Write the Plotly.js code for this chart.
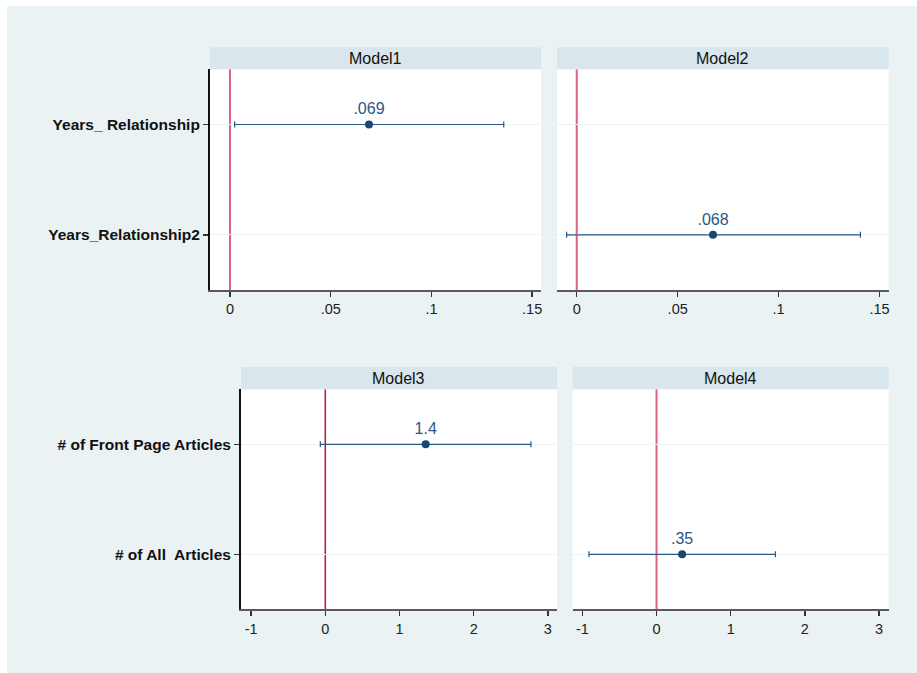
<!DOCTYPE html>
<html>
<head>
<meta charset="utf-8">
<script src="https://cdn.plot.ly/plotly-3.0.1.min.js"></script>
<style>html,body{margin:0;padding:0;background:#eaf2f3;overflow:hidden;}#chart{width:917px;height:673px;}</style>
</head>
<body>
<div id="chart"></div>
<script>
// ---- Data ----
const topLabels = ["Years_ Relationship", "Years_Relationship2"];
const bottomLabels = ["# of Front Page Articles", "# of All\u00a0 Articles"];
const modelNames = ["Model1", "Model2", "Model3", "Model4"];

// row index (1 = first label, 2 = second label) for each model's coefficient
const modelRow = [1, 2, 1, 2];
const coef   = [0.069, 0.0675, 1.353, 0.345];
const ciLow  = [0.0023, -0.005, -0.067, -0.911];
const ciHigh = [0.1359, 0.1405, 2.772, 1.603];
const coefLabels = [".069", ".068", "1.4", ".35"];
const refValue = 0;

const topTickVals = [0, 0.05, 0.1, 0.15];
const topTickText = ["0", ".05", ".1", ".15"];
const botTickVals = [-1, 0, 1, 2, 3];
const botTickText = ["-1", "0", "1", "2", "3"];

// ---- Layout helpers ----
const W = 917, H = 673;
const FONT = "Liberation Sans, Arial, sans-serif";
const navy = "#1a476f";
const px = v => v / W;
const py = v => 1 - v / H;

const panels = [
  {x0: 210, x1: 541, y0: 69.3, y1: 290, hy0: 47.3, range: [-0.00993, 0.1544], tv: topTickVals, tt: topTickText, left: true, labels: topLabels, zc: "#d9637c", zw: 2},
  {x0: 557, x1: 888.7, y0: 69.3, y1: 290, hy0: 47.3, range: [-0.00976, 0.1545], tv: topTickVals, tt: topTickText, left: false, labels: topLabels, zc: "#d9637c", zw: 2},
  {x0: 241, x1: 557, y0: 389.3, y1: 609.3, hy0: 367, range: [-1.136, 3.123], tv: botTickVals, tt: botTickText, left: true, labels: bottomLabels, zc: "#c8102e", zw: 1.5},
  {x0: 572.7, x1: 888.7, y0: 389.3, y1: 609.3, hy0: 367, range: [-1.13, 3.13], tv: botTickVals, tt: botTickText, left: false, labels: bottomLabels, zc: "#d9637c", zw: 2}
];

const traces = [];
const layout = {
  width: W, height: H,
  margin: {l: 0, r: 0, t: 0, b: 0},
  paper_bgcolor: "#eaf2f3",
  plot_bgcolor: "#ffffff",
  showlegend: false,
  shapes: [
    {type: "rect", xref: "paper", yref: "paper", x0: 0, x1: 1, y0: py(6), y1: 1,
     fillcolor: "#ffffff", line: {width: 0}, layer: "below"},
    {type: "rect", xref: "paper", yref: "paper", x0: 0, x1: px(7), y0: 0, y1: 1,
     fillcolor: "#ffffff", line: {width: 0}, layer: "below"}
  ],
  annotations: []
};

panels.forEach((p, i) => {
  const n = i + 1;
  const xa = "xaxis" + (n === 1 ? "" : n);
  const ya = "yaxis" + (n === 1 ? "" : n);
  const xr = "x" + (n === 1 ? "" : n);
  const yr = "y" + (n === 1 ? "" : n);

  traces.push({
    type: "scatter", mode: "markers+text",
    x: [coef[i]], y: [modelRow[i]],
    xaxis: xr, yaxis: yr,
    text: [coefLabels[i]], textposition: "top center",
    textfont: {family: FONT, size: 16, color: "#2a5784"},
    marker: {color: navy, size: 8},
    error_x: {type: "data", symmetric: false,
      array: [ciHigh[i] - coef[i]], arrayminus: [coef[i] - ciLow[i]],
      color: "#2a5784", thickness: 1.2, width: 3},
    cliponaxis: false, hoverinfo: "skip"
  });

  layout[xa] = {
    domain: [px(p.x0), px(p.x1)], anchor: yr,
    range: p.range, tickvals: p.tv, ticktext: p.tt,
    showgrid: false, zeroline: false,
    showline: true, linecolor: "#5a5a5a", linewidth: 2,
    ticks: "outside", ticklen: 5, tickwidth: 1.5, tickcolor: "#333",
    tickfont: {family: FONT, size: 14.5, color: "#222"}
  };
  layout[ya] = {
    domain: [py(p.y1), py(p.y0)], anchor: xr,
    range: [2.5, 0.5], tickvals: [1, 2], ticktext: p.labels,
    showgrid: true, gridcolor: "#eaf2f3", gridwidth: 1,
    zeroline: false,
    showline: p.left, linecolor: "#111", linewidth: 2,
    showticklabels: p.left,
    ticks: p.left ? "outside" : "", ticklen: 5, tickwidth: 1.5, tickcolor: "#333",
    tickfont: {family: FONT, size: 15.5, color: "#111", weight: "bold"}
  };

  // reference line at zero
  layout.shapes.push({type: "line", xref: xr, yref: yr + " domain",
    x0: refValue, x1: refValue, y0: 0, y1: 1, layer: "below",
    line: {color: p.zc, width: p.zw}});

  layout.shapes.push({type: "rect", xref: "paper", yref: "paper",
    x0: px(p.x0), x1: px(p.x1), y0: py(p.y0), y1: py(p.hy0),
    fillcolor: "#d9e6eb", line: {width: 0}});
  layout.annotations.push({xref: "paper", yref: "paper",
    x: (px(p.x0) + px(p.x1)) / 2, y: (py(p.y0) + py(p.hy0)) / 2,
    text: modelNames[i], showarrow: false, xanchor: "center", yanchor: "middle",
    font: {family: FONT, size: 16, color: "#111"}});
});

Plotly.newPlot("chart", traces, layout, {displayModeBar: false, staticPlot: true});
</script>
</body>
</html>
